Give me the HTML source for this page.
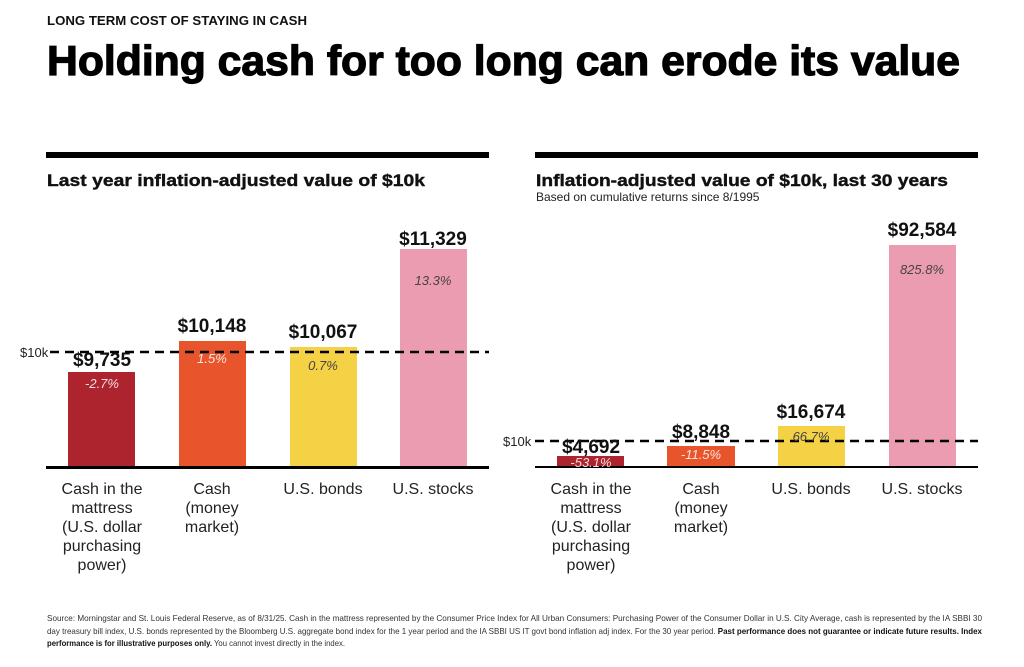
<!DOCTYPE html>
<html><head><meta charset="utf-8"><style>body{margin:0;background:#fff}svg{display:block}</style></head>
<body>
<svg width="1024" height="667" viewBox="0 0 1024 667" xmlns="http://www.w3.org/2000/svg" font-family="Liberation Sans, sans-serif">
<text x="47" y="25" font-size="12.5" font-weight="bold" fill="#111" textLength="260" lengthAdjust="spacingAndGlyphs">LONG TERM COST OF STAYING IN CASH</text>
<text x="47" y="75" font-size="42" font-weight="bold" fill="#000" stroke="#000" stroke-width="1.2" textLength="913" lengthAdjust="spacingAndGlyphs">Holding cash for too long can erode its value</text>
<rect x="46" y="152" width="443" height="6" fill="#000"/>
<rect x="535" y="152" width="443" height="6" fill="#000"/>
<text x="47" y="186" font-size="17" font-weight="bold" fill="#111" stroke="#111" stroke-width="0.4" textLength="378" lengthAdjust="spacingAndGlyphs">Last year inflation-adjusted value of $10k</text>
<text x="536" y="186" font-size="17" font-weight="bold" fill="#111" stroke="#111" stroke-width="0.4" textLength="412" lengthAdjust="spacingAndGlyphs">Inflation-adjusted value of $10k, last 30 years</text>
<text x="536" y="201" font-size="12" fill="#222">Based on cumulative returns since 8/1995</text>
<!-- Left chart -->
<rect x="68" y="372" width="67" height="95" fill="#ae242e"/>
<rect x="179" y="341" width="67" height="126" fill="#e8552d"/>
<rect x="290" y="347" width="67" height="120" fill="#f5d146"/>
<rect x="400" y="249" width="67" height="218" fill="#ec9cb0"/>
<rect x="46" y="466" width="443" height="3" fill="#000"/>
<line x1="50" y1="352" x2="489" y2="352" stroke="#000" stroke-width="2.5" stroke-dasharray="9,6"/>
<text x="20" y="357" font-size="13" fill="#222">$10k</text>
<g font-size="19" font-weight="bold" fill="#111" text-anchor="middle">
<text x="102" y="366">$9,735</text><text x="212" y="332">$10,148</text><text x="323" y="338">$10,067</text><text x="433" y="245">$11,329</text>
</g>
<g font-size="13" font-style="italic" text-anchor="middle">
<text x="102" y="388" fill="#f3dfe0">-2.7%</text><text x="212" y="363" fill="#fce6dc">1.5%</text><text x="323" y="370" fill="#444">0.7%</text><text x="433" y="285" fill="#444">13.3%</text>
</g>
<!-- Right chart -->
<rect x="557" y="456" width="67" height="11" fill="#ae242e"/>
<rect x="667" y="446" width="68" height="21" fill="#e8552d"/>
<rect x="778" y="426" width="67" height="41" fill="#f5d146"/>
<rect x="889" y="245" width="67" height="222" fill="#ec9cb0"/>
<rect x="535" y="466" width="443" height="2" fill="#000"/>
<line x1="535" y1="441" x2="978" y2="441" stroke="#000" stroke-width="2.5" stroke-dasharray="9,6"/>
<text x="503" y="446" font-size="13" fill="#222">$10k</text>
<g font-size="19" font-weight="bold" fill="#111" text-anchor="middle">
<text x="591" y="453">$4,692</text><text x="701" y="438">$8,848</text><text x="811" y="418">$16,674</text><text x="922" y="236">$92,584</text>
</g>
<g font-size="13" font-style="italic" text-anchor="middle">
<text x="591" y="467" fill="#f3dfe0">-53.1%</text><text x="701" y="459" fill="#fce6dc">-11.5%</text><text x="811" y="441" fill="#444">66.7%</text><text x="922" y="274" fill="#444">825.8%</text>
</g>
<!-- Category labels -->
<g font-size="16" fill="#222" text-anchor="middle">
<text x="102" y="494">Cash in the</text><text x="102" y="513">mattress</text><text x="102" y="532">(U.S. dollar</text><text x="102" y="551">purchasing</text><text x="102" y="570">power)</text>
<text x="212" y="494">Cash</text><text x="212" y="513">(money</text><text x="212" y="532">market)</text>
<text x="323" y="494">U.S. bonds</text><text x="433" y="494">U.S. stocks</text>
<text x="591" y="494">Cash in the</text><text x="591" y="513">mattress</text><text x="591" y="532">(U.S. dollar</text><text x="591" y="551">purchasing</text><text x="591" y="570">power)</text>
<text x="701" y="494">Cash</text><text x="701" y="513">(money</text><text x="701" y="532">market)</text>
<text x="811" y="494">U.S. bonds</text><text x="922" y="494">U.S. stocks</text>
</g>
<g font-size="8.5" fill="#333">
<text x="47" y="621" textLength="935" lengthAdjust="spacingAndGlyphs">Source: Morningstar and St. Louis Federal Reserve, as of 8/31/25. Cash in the mattress represented by the Consumer Price Index for All Urban Consumers: Purchasing Power of the Consumer Dollar in U.S. City Average, cash is represented by the IA SBBI 30</text>
<text x="47" y="634" textLength="935" lengthAdjust="spacingAndGlyphs">day treasury bill index, U.S. bonds represented by the Bloomberg U.S. aggregate bond index for the 1 year period and the IA SBBI US IT govt bond inflation adj index. For the 30 year period. <tspan font-weight="bold" fill="#111">Past performance does not guarantee or indicate future results. Index</tspan></text>
<text x="47" y="646" textLength="298" lengthAdjust="spacingAndGlyphs"><tspan font-weight="bold" fill="#111">performance is for illustrative purposes only.</tspan> You cannot invest directly in the index.</text>
</g>
</svg>
</body></html>
